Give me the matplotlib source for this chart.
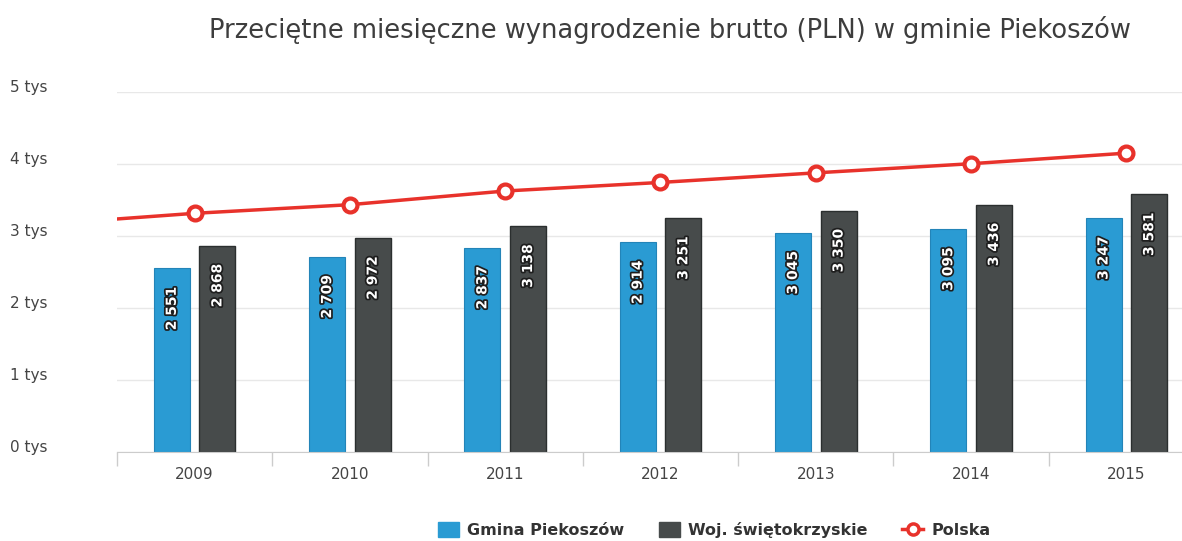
import matplotlib
matplotlib.use('Agg')
import matplotlib.pyplot as plt
import matplotlib.patheffects as pe
from matplotlib.lines import Line2D
from matplotlib.patches import Patch
import numpy as np

# data
years = ['2009', '2010', '2011', '2012', '2013', '2014', '2015']
gmina = [2551, 2709, 2837, 2914, 3045, 3095, 3247]
woj = [2868, 2972, 3138, 3251, 3350, 3436, 3581]
# Polska line also has a 2008 point that sits just off the left edge
polska_years = ['2008'] + years
polska = [3158, 3315, 3435, 3625, 3744, 3877, 4004, 4151]
y_ticks = [0, 1000, 2000, 3000, 4000, 5000]
y_labels = ['0 tys', '1 tys', '2 tys', '3 tys', '4 tys', '5 tys']

blue = '#2a9bd3'
dark = '#474b4b'
red = '#e8322b'

fig = plt.figure(figsize=(11.82, 5.41), dpi=100)
# plot area runs a little past the right edge, as in the reference
ax = fig.add_axes([117 / 1182, 89 / 541, 1087 / 1182, 360 / 541])

x = np.arange(len(years))
w = 0.232
off = 0.147

b1 = ax.bar(x - off, gmina, w, color=blue, edgecolor='#2384b8', linewidth=0.8, zorder=2)
b2 = ax.bar(x + off, woj, w, color=dark, edgecolor='#2b2f2f', linewidth=1.0, zorder=2)

stroke = [pe.withStroke(linewidth=2.5, foreground='#1e1e1e')]
for bars, vals in ((b1, gmina), (b2, woj)):
    for rect, v in zip(bars, vals):
        ax.annotate(f'{v:,}'.replace(',', ' '),
                    xy=(rect.get_x() + rect.get_width() / 2, v),
                    xytext=(0, -13), textcoords='offset points',
                    rotation=90, ha='center', va='top',
                    color='white', fontsize=10, fontweight='bold',
                    path_effects=stroke, zorder=4)

px = np.arange(len(polska_years)) - 1
ax.plot(px, polska, color=red, lw=2.5, marker='o', markersize=10,
        markerfacecolor='white', markeredgecolor=red, markeredgewidth=3,
        zorder=5, clip_on=True)

ax.set_xlim(-0.5, len(years) - 0.5)
ax.set_ylim(0, 5000)

ax.set_yticks(y_ticks)
ax.set_yticklabels(y_labels, fontsize=11, color='#444444')
for lab in ax.get_yticklabels():
    lab.set_horizontalalignment('left')
    lab.set_verticalalignment('baseline')
ax.tick_params(axis='y', length=0, pad=77)

ax.set_xticks(x)
ax.set_xticklabels(years, fontsize=11, color='#444444')
ax.tick_params(axis='x', length=0, pad=11)
# category boundary ticks
ax.set_xticks(np.arange(len(years) + 1) - 0.5, minor=True)
ax.tick_params(axis='x', which='minor', length=10, color='#cccccc', width=1)

ax.grid(axis='y', color='#e8e8e8', lw=1, zorder=0)
ax.set_axisbelow(True)
for s in ('top', 'right', 'left'):
    ax.spines[s].set_visible(False)
ax.spines['bottom'].set_color('#cccccc')

fig.text(670 / 1182, 1 - 30 / 541, 'Przeciętne miesięczne wynagrodzenie brutto (PLN) w gminie Piekoszów',
         ha='center', va='center', fontsize=18.5, color='#3d3d3d')

handles = [
    Patch(facecolor=blue, edgecolor=blue, label='Gmina Piekoszów'),
    Patch(facecolor=dark, edgecolor=dark, label='Woj. świętokrzyskie'),
    Line2D([], [], color=red, lw=2.5, marker='o', markersize=8,
           markerfacecolor='white', markeredgecolor=red, markeredgewidth=2.5, label='Polska'),
]
fig.legend(handles=handles, loc='center', bbox_to_anchor=(714 / 1182, 1 - 530 / 541),
           ncol=3, frameon=False, prop={'size': 11.5, 'weight': 'bold'},
           labelcolor='#333333', handlelength=1.3, handleheight=1.0,
           columnspacing=2.2, handletextpad=0.5)

fig.savefig('out.png', dpi=100)
